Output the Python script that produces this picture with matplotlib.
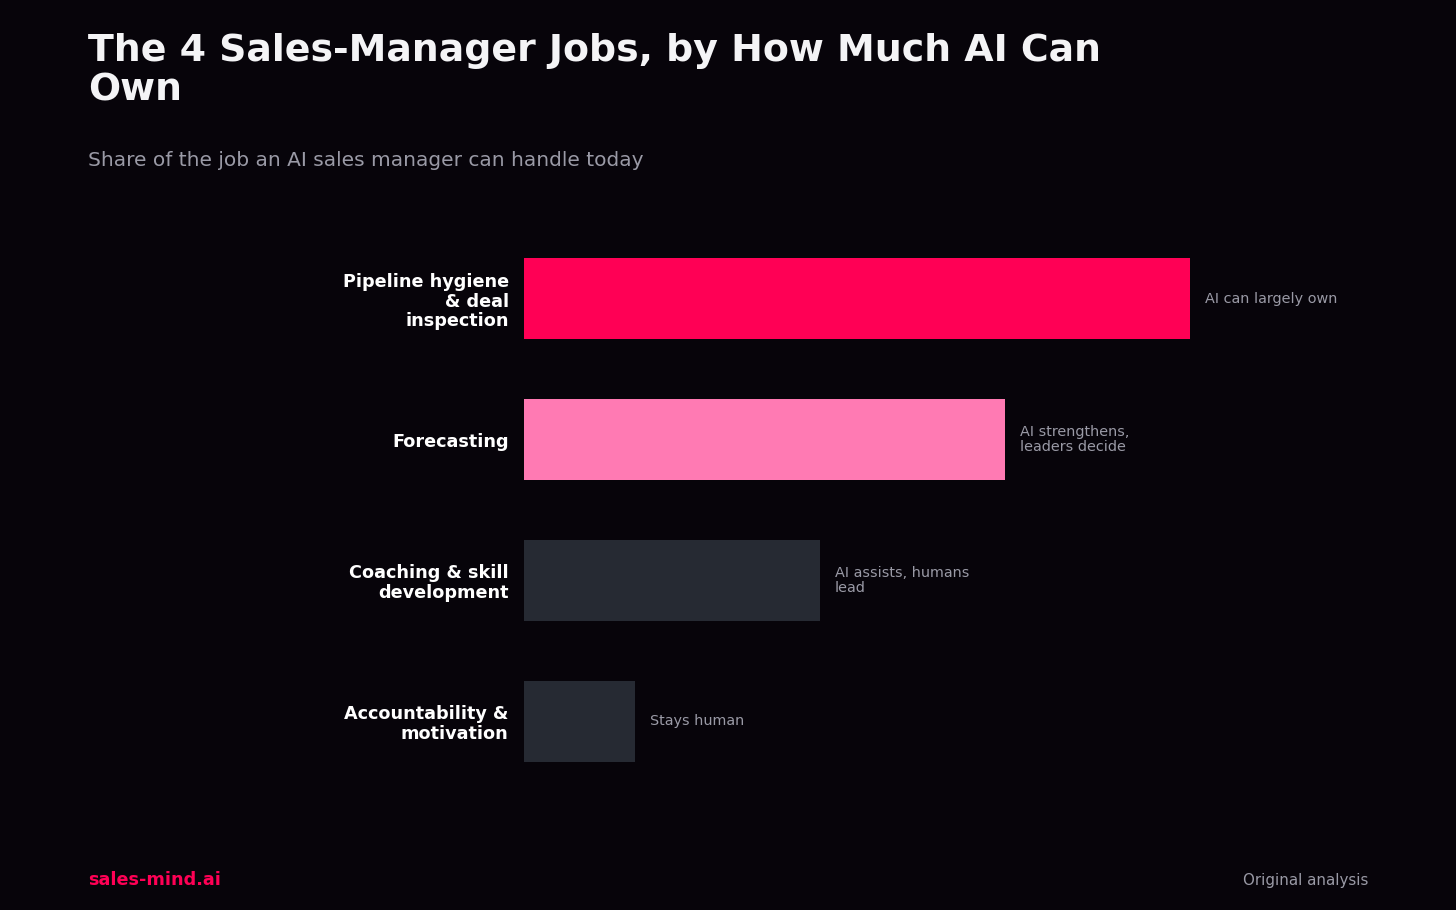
import numpy as np
import matplotlib.pyplot as plt

plt.rcParams['font.family'] = ['DejaVu Sans']

# chart data
jobs = ["Pipeline hygiene\n& deal\ninspection", "Forecasting",
        "Coaching & skill\ndevelopment", "Accountability &\nmotivation"]
ai_share = [90, 65, 40, 15]
notes = ["AI can largely own", "AI strengthens,\nleaders decide",
         "AI assists, humans\nlead", "Stays human"]
bar_colors = ["#ff0055", "#ff7ab3", "#262a33", "#262a33"]

BG = "#07040a"
MUTED = "#9a9aa6"

fig = plt.figure(figsize=(14.56, 9.10), dpi=100, facecolor=BG)
ax = fig.add_axes([524 / 1456, 1 - 791.5 / 910, 740 / 1456, 563 / 910])
ax.set_facecolor(BG)

y = np.arange(len(jobs))
ax.barh(y, ai_share, height=0.575, color=bar_colors)
ax.set_xlim(0, 100)
ax.set_ylim(len(jobs) - 0.5, -0.5)

# notes next to the bars
for yi, val, note in zip(y, ai_share, notes):
    ax.text(val + 2, yi, note, va="center", ha="left", color=MUTED,
            fontsize=10.4, linespacing=1.05)

ax.set_yticks(y)
ax.set_yticklabels(jobs, fontsize=12.7, fontweight="bold", color="white",
                   linespacing=1.1)
ax.tick_params(axis="y", length=0, pad=11)
ax.set_xticks([])
for s in ax.spines.values():
    s.set_visible(False)

fig.text(88 / 1456, 1 - 33 / 910, "The 4 Sales-Manager Jobs, by How Much AI Can\nOwn",
         fontsize=27.3, fontweight="bold", color="#f4f4f6", ha="left", va="top",
         linespacing=1.12)
fig.text(88 / 1456, 1 - 166 / 910, "Share of the job an AI sales manager can handle today",
         fontsize=14.5, color=MUTED, ha="left", va="baseline")

fig.text(88 / 1456, 1 - 885 / 910, "sales-mind.ai", fontsize=12.7, fontweight="bold",
         color="#ff0055", ha="left", va="baseline")
fig.text(1368 / 1456, 1 - 885 / 910, "Original analysis", fontsize=10.8, color=MUTED,
         ha="right", va="baseline")

fig.savefig("out.png", dpi=100, facecolor=BG)
